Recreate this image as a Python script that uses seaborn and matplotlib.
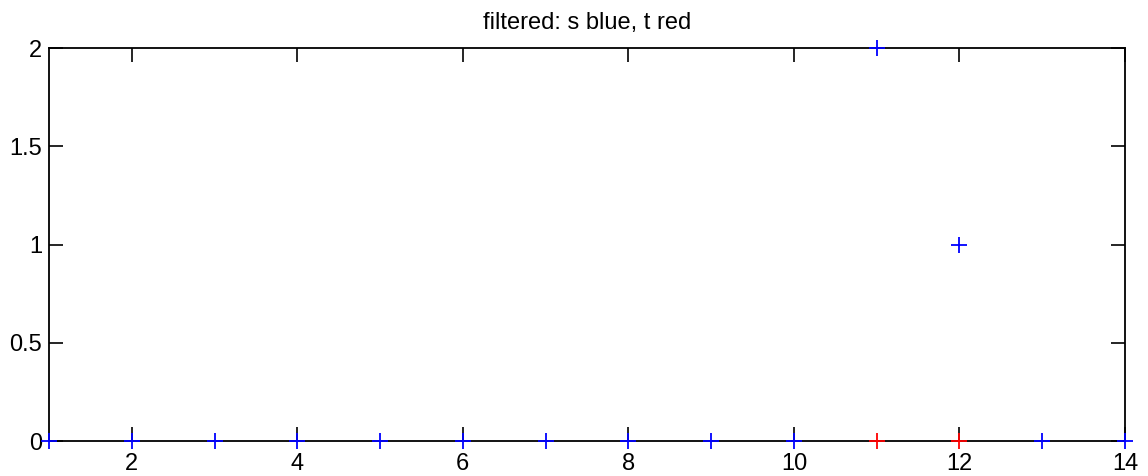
import matplotlib
matplotlib.use("Agg")
import matplotlib.pyplot as plt
import seaborn as sns
import pandas as pd

# data
x_vals = [1, 2, 3, 4, 5, 6, 7, 8, 9, 10, 11, 12, 13, 14]
s_vals = [0, 0, 0, 0, 0, 0, 0, 0, 0, 0, 2, 1, 0, 0]
t_x = [11, 12]
t_vals = [0, 0]
x_ticks = [2, 4, 6, 8, 10, 12, 14]
y_ticks = [0, 0.5, 1, 1.5, 2]
y_tick_labels = ["0", "0.5", "1", "1.5", "2"]
title = "filtered: s blue, t red"

sns.set_style("white")
plt.rcParams['font.family'] = ['Liberation Sans', 'DejaVu Sans']

fig = plt.figure(figsize=(11.48, 4.76), dpi=100)
ax = fig.add_axes([49/1148, 1 - 441/476, (1125 - 49)/1148, (441 - 48)/476])

df_s = pd.DataFrame({"x": x_vals, "y": s_vals})
df_t = pd.DataFrame({"x": t_x, "y": t_vals})

sns.scatterplot(data=df_t, x="x", y="y", marker="+", color="#ff0000", s=130,
                linewidth=1.3, ax=ax, clip_on=False, zorder=3)
sns.scatterplot(data=df_s, x="x", y="y", marker="+", color="#0000ff", s=130,
                linewidth=1.3, ax=ax, clip_on=False, zorder=4)

ax.set_xlim(1, 14)
ax.set_ylim(0, 2)
ax.set_xticks(x_ticks)
ax.set_xticklabels([str(v) for v in x_ticks])
ax.set_yticks(y_ticks)
ax.set_yticklabels(y_tick_labels)
ax.set_xlabel("")
ax.set_ylabel("")
ax.tick_params(direction="in", length=10, width=1.2, colors="black",
               labelsize=17, top=True, right=True, bottom=True, left=True)
ax.tick_params(axis="x", pad=9)
ax.tick_params(axis="y", pad=5)
for sp in ax.spines.values():
    sp.set_visible(True)
    sp.set_color("black")
    sp.set_linewidth(1.3)
ax.set_title(title, fontsize=17, pad=14, color="black")

fig.savefig("out.png", dpi=100)
